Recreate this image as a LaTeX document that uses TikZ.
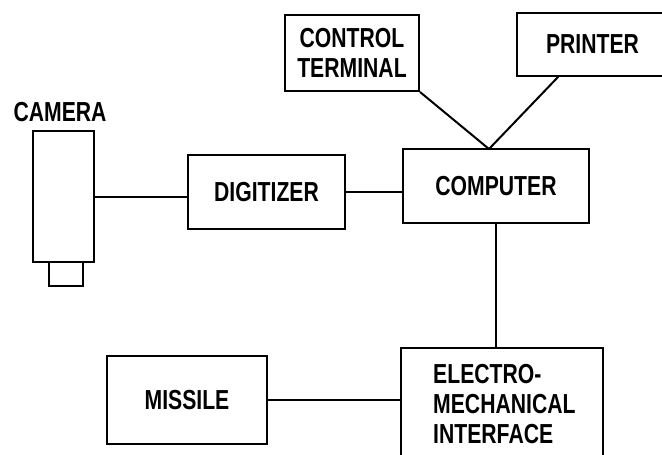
\documentclass[tikz,border=0pt]{standalone}
\usepackage{fontspec}
\setmainfont{Liberation Sans}[FakeStretch=0.77]
\usepackage{tikz}
\usetikzlibrary{positioning}

\tikzset{
  box/.style={draw, line width=2pt, inner sep=0pt},
  label/.style={font=\fontsize{27.5}{30}\selectfont\bfseries, inner sep=0pt},
}

\begin{document}
\begin{tikzpicture}[x=1pt,y=-1pt]
  \useasboundingbox (0,0) rectangle (662,455);
  \clip (0,0) rectangle (662,455);
  % camera
  \node[box, minimum width=61pt, minimum height=131pt] (camera) at (63.5,196.5) {};
  \node[box, minimum width=34pt, minimum height=24pt] (lens) at (66,274) {};
  \node[label] (cameralabel) at (60,112) {CAMERA};
  % blocks
  \node[box, label, minimum width=157pt, minimum height=74pt] (digitizer) at (266.5,192) {DIGITIZER};
  \node[box, label, minimum width=186pt, minimum height=74pt] (computer) at (496,186) {COMPUTER};
  \node[box, label, align=center, minimum width=134pt, minimum height=76pt] (control) at (352,53) {CONTROL\\TERMINAL};
  \node[box, label, minimum width=151pt, minimum height=63pt] (printer) at (592.5,44) {PRINTER};
  \node[box, minimum width=202pt, minimum height=132pt] (electro) at (502,414) {};
  \node[label, align=left, anchor=north west] (electrotext) at (433,364) {ELECTRO-\\MECHANICAL\\INTERFACE};
  \node[box, label, minimum width=160pt, minimum height=88pt] (missile) at (187,400) {MISSILE};
  \coordinate (hub) at (489,149);
  % connections
  \draw[line width=2pt] (camera.east) -- (camera.east -| digitizer.west);
  \draw[line width=2pt] (digitizer.east) -- (digitizer.east -| computer.west);
  \draw[line width=2pt] (control.south east) -- (hub);
  \draw[line width=2pt] ([xshift=-34pt]printer.south) -- (hub);
  \draw[line width=2pt] (computer.south) -- (computer.south |- electro.north);
  \draw[line width=2pt] (missile.east) -- (missile.east -| electro.west);
\end{tikzpicture}
\end{document}
